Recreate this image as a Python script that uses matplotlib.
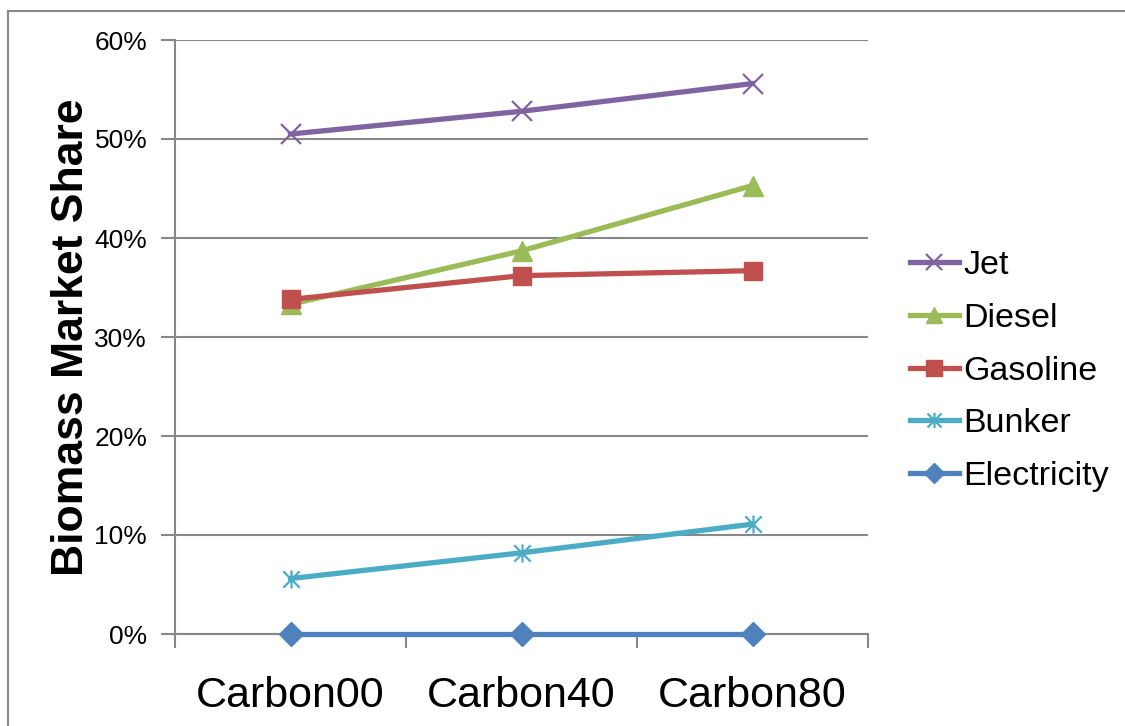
import matplotlib.pyplot as plt
from matplotlib.lines import Line2D
from matplotlib.path import Path

plt.rcParams['font.family'] = ['Liberation Sans', 'DejaVu Sans']

scenarios = ['Carbon00', 'Carbon40', 'Carbon80']
jet = [50.5, 52.8, 55.6]
diesel = [33.3, 38.7, 45.3]
gasoline = [33.8, 36.2, 36.7]
bunker = [5.6, 8.2, 11.1]
electricity = [0.0, 0.0, 0.0]

yticks = [0, 10, 20, 30, 40, 50, 60]
ytick_labels = ['0%', '10%', '20%', '30%', '40%', '50%', '60%']

# asterisk: an x with a vertical stroke through it
star = Path([(-1, -1), (1, 1), (-1, 1), (1, -1), (0, -1.1), (0, 1.1)],
            [Path.MOVETO, Path.LINETO, Path.MOVETO, Path.LINETO, Path.MOVETO, Path.LINETO])

fig = plt.figure(figsize=(11.25, 7.26), dpi=100)
ax = fig.add_axes([175/1125, 1-634/726, (868-175)/1125, (634-40)/726])

x = range(len(scenarios))
lw = 3.8
# draw bottom series first so gasoline sits over diesel
ax.plot(x, electricity, color='#4F81BD', lw=lw, marker='D', ms=12, label='Electricity', clip_on=False, zorder=3)
ax.plot(x, bunker, color='#4BACC6', lw=lw, marker=star, ms=13, mew=1.6, label='Bunker', zorder=3)
ax.plot(x, diesel, color='#9BBB59', lw=lw, marker='^', ms=14, label='Diesel', zorder=3)
ax.plot(x, gasoline, color='#C0504D', lw=lw, marker='s', ms=13, label='Gasoline', zorder=4)
ax.plot(x, jet, color='#8064A2', lw=lw, marker='x', ms=14, mew=1.6, label='Jet', zorder=4)

ax.set_xlim(-0.5, 2.5)
ax.set_ylim(0, 60)
ax.set_yticks(yticks)
ax.set_yticklabels(ytick_labels, fontsize=19)
ax.set_xticks([-0.5, 0.5, 1.5, 2.5])
ax.set_xticklabels([])
ax.set_xticks(list(x), minor=True)
ax.set_xticklabels(scenarios, minor=True, fontsize=31)
ax.tick_params(axis='x', which='minor', length=0, pad=30)
ax.tick_params(axis='x', which='major', length=10, width=1.5, color='#888888', direction='out')
ax.tick_params(axis='y', length=10, width=1.5, color='#888888', direction='out', pad=10)

ax.grid(axis='y', color='#888888', lw=1.5)
ax.set_axisbelow(True)
for side in ['top', 'right']:
    ax.spines[side].set_visible(False)
for side in ['left', 'bottom']:
    ax.spines[side].set_color('#888888')
    ax.spines[side].set_linewidth(1.5)

ax.set_ylabel('Biomass Market Share', fontsize=32, fontweight='bold', labelpad=2)

handles, labels = ax.get_legend_handles_labels()
order = ['Jet', 'Diesel', 'Gasoline', 'Bunker', 'Electricity']
hmap = dict(zip(labels, handles))
leg = fig.legend([hmap[k] for k in order], order, loc='center left',
                 bbox_to_anchor=(879/1125, 1-371/726), frameon=False,
                 fontsize=24.5, handlelength=1.45, handletextpad=0.12,
                 labelspacing=0.64, markerscale=0.85)

# outer chart frame (left and top edges)
fig.add_artist(Line2D([8/1125, 8/1125], [0, 1-11/726], color='#888888', lw=1.5))
fig.add_artist(Line2D([8/1125, 1], [1-11/726, 1-11/726], color='#888888', lw=1.5))

fig.savefig('out.png', dpi=100)
